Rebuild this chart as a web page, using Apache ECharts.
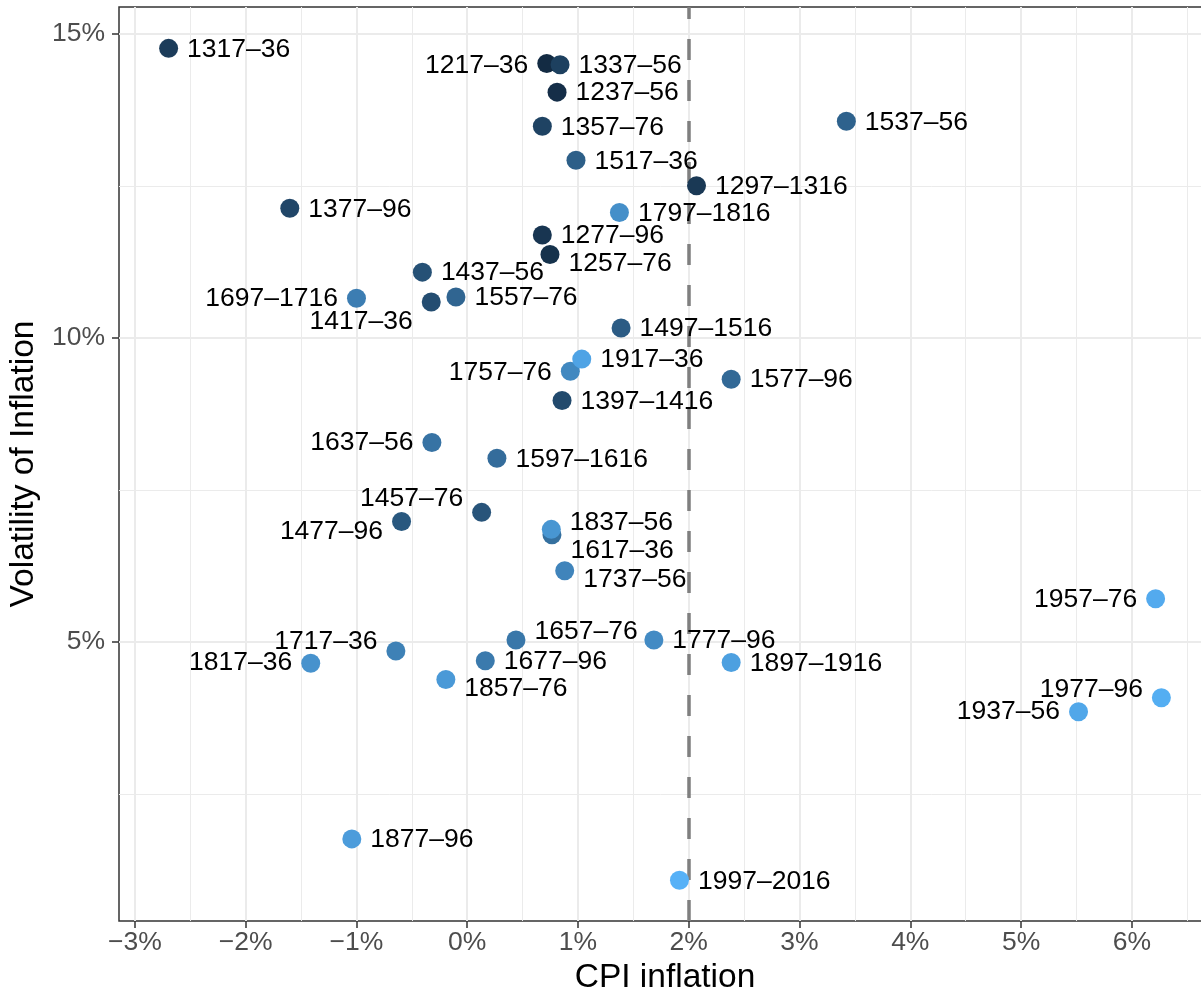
<!DOCTYPE html>
<html>
<head>
<meta charset="utf-8">
<title>CPI inflation vs volatility</title>
<script src="https://cdn.jsdelivr.net/npm/echarts@6/dist/echarts.min.js"></script>
<style>
  html, body { margin: 0; padding: 0; background: #fff; }
  #chart { width: 1201px; height: 996px; }
</style>
</head>
<body>
<div id="chart"></div>
<script>
// 20-year periods, mean CPI inflation (%) and its volatility (%)
const periods = ['1217–36', '1237–56', '1257–76', '1277–96', '1297–1316',
  '1317–36', '1337–56', '1357–76', '1377–96', '1397–1416',
  '1417–36', '1437–56', '1457–76', '1477–96', '1497–1516',
  '1517–36', '1537–56', '1557–76', '1577–96', '1597–1616',
  '1617–36', '1637–56', '1657–76', '1677–96', '1697–1716',
  '1717–36', '1737–56', '1757–76', '1777–96', '1797–1816',
  '1817–36', '1837–56', '1857–76', '1877–96', '1897–1916',
  '1917–36', '1937–56', '1957–76', '1977–96', '1997–2016']
const cpiInflation = [0.718, 0.811, 0.747, 0.678, 2.070,
  -2.696, 0.838, 0.678, -1.602, 0.856,
  -0.325, -0.405, 0.130, -0.593, 1.389,
  0.982, 3.423, -0.102, 2.383, 0.268,
  0.765, -0.319, 0.440, 0.163, -1.000,
  -0.644, 0.880, 0.931, 1.685, 1.374,
  -1.413, 0.759, -0.193, -1.042, 2.383,
  1.034, 5.519, 6.215, 6.267, 1.916]
const inflationVolatility = [14.51, 14.04, 11.37, 11.69, 12.50,
  14.76, 14.49, 13.48, 12.13, 8.97,
  10.59, 11.08, 7.13, 6.98, 10.16,
  12.92, 13.56, 10.67, 9.32, 8.02,
  6.76, 8.28, 5.03, 4.69, 10.65,
  4.85, 6.17, 9.45, 5.03, 12.06,
  4.65, 6.85, 4.38, 1.76, 4.66,
  9.65, 3.85, 5.71, 4.08, 1.08]

const xTicks = [-3, -2, -1, 0, 1, 2, 3, 4, 5, 6]
const xMinorTicks = [-2.5, -1.5, -0.5, 0.5, 1.5, 2.5, 3.5, 4.5, 5.5, 6.5]
const yTicks = [5, 10, 15]
const yMinorTicks = [2.5, 7.5, 12.5]
const inflationTarget = 2

// label placement (like ggrepel did it): side, vertical shift in px
const labelPlace = {
  '1217–36': ['left', 2], '1697–1716': ['left', 0], '1757–76': ['left', 1],
  '1637–56': ['left', 0], '1817–36': ['left', 0], '1957–76': ['left', 1],
  '1937–56': ['left', 0], '1417–36': ['left', 20], '1457–76': ['left', -14],
  '1477–96': ['left', 10], '1717–36': ['left', -9], '1977–96': ['left', -8],
  '1257–76': ['right', 9], '1837–56': ['right', -7], '1617–36': ['right', 16],
  '1737–56': ['right', 9], '1657–76': ['right', -8], '1857–76': ['right', 9]
}
const placeOf = p => labelPlace[p] || ['right', 1]

const font = 'Liberation Sans, Arial, Helvetica, sans-serif'
const pct = v => (v < 0 ? '−' : '') + Math.abs(v) + '%'

var myChart = echarts.init(document.getElementById('chart'), null, {renderer: 'canvas'})

let points = periods.map((p, i) => ({
  name: p,
  value: [cpiInflation[i], inflationVolatility[i], parseInt(p)],
  label: {position: placeOf(p)[0]}
}))

let guideLines = xMinorTicks.map(v => ({xAxis: v}))
  .concat(yMinorTicks.map(v => ({yAxis: v})))
guideLines.push({
  xAxis: inflationTarget,
  lineStyle: {color: '#7F7F7F', width: 3.5, type: [21, 20]}
})

myChart.setOption({
  animation: false,
  backgroundColor: '#fff',
  textStyle: {fontFamily: font},
  grid: {
    left: 119, top: 7, width: 1092, height: 914,
    show: true, borderColor: '#333', borderWidth: 1.5,
    outerBoundsMode: 'none'
  },
  xAxis: {
    type: 'value',
    min: -3.144, max: 6.715,
    splitNumber: 10,
    name: 'CPI inflation',
    nameLocation: 'middle',
    nameGap: 38,
    nameTextStyle: {fontSize: 33.5, color: '#000', fontFamily: font},
    axisLine: {show: false, onZero: false},
    axisTick: {show: true, length: 7, customValues: xTicks,
      lineStyle: {color: '#333', width: 1.5}},
    axisLabel: {customValues: xTicks, formatter: pct, margin: 8,
      fontSize: 26.5, color: '#4D4D4D', fontFamily: font},
    splitLine: {show: true, lineStyle: {color: '#EBEBEB', width: 2}},
    minorSplitLine: {show: false}
  },
  yAxis: {
    type: 'value',
    min: 0.41, max: 15.44,
    splitNumber: 3,
    name: 'Volatility of Inflation',
    nameLocation: 'middle',
    nameRotate: 90,
    nameGap: 62,
    nameTextStyle: {fontSize: 33.5, color: '#000', fontFamily: font},
    axisLine: {show: false, onZero: false},
    axisTick: {show: true, length: 7, customValues: yTicks,
      lineStyle: {color: '#333', width: 1.5}},
    axisLabel: {customValues: yTicks, formatter: pct, margin: 14,
      fontSize: 26.5, color: '#4D4D4D', fontFamily: font},
    splitLine: {show: true, lineStyle: {color: '#EBEBEB', width: 2}}
  },
  visualMap: {
    show: false,
    type: 'continuous',
    seriesIndex: 1,
    dimension: 2,
    min: 1217, max: 1997,
    inRange: {color: ['#132B43', '#56B1F7'], opacity: 1}
  },
  series: [
    {
      // minor grid + 2% target line, kept under points and labels
      type: 'scatter',
      data: [],
      z: 1,
      silent: true,
      markLine: {
        z: 1,
        silent: true,
        symbol: 'none',
        animation: false,
        label: {show: false},
        emphasis: {disabled: true},
        lineStyle: {color: '#EBEBEB', width: 1, type: 'solid'},
        data: guideLines
      }
    },
    {
      type: 'scatter',
      z: 3,
      symbolSize: 19,
      data: points,
      itemStyle: {opacity: 1},
      emphasis: {disabled: true},
      label: {
        show: true,
        formatter: '{b}',
        distance: 9,
        fontSize: 26.5,
        color: '#000',
        fontFamily: font
      },
      labelLayout: params => ({dy: placeOf(periods[params.dataIndex])[1], hideOverlap: false})
    }
  ]
})
</script>
</body>
</html>
